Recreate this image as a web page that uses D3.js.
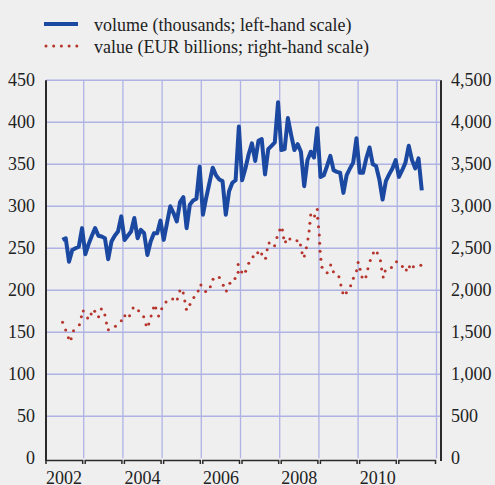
<!DOCTYPE html>
<html><head><meta charset="utf-8">
<script src="https://cdn.jsdelivr.net/npm/d3@7"></script>
<style>
html,body{margin:0;padding:0;background:#efefef;}
svg{display:block;}
text{font-family:"Liberation Serif","Times New Roman",serif;fill:#222;}
</style></head>
<body>
<svg id="chart" width="495" height="485"></svg>
<script>
// ---- data ----
const legendLabels = ["volume (thousands; left-hand scale)", "value (EUR billions; right-hand scale)"];
const leftTicks = [0,50,100,150,200,250,300,350,400,450];
const rightTicks = [0,500,1000,1500,2000,2500,3000,3500,4000,4500];
const yearLabels = [2002,2004,2006,2008,2010];
const yearBounds = [2002,2003,2004,2005,2006,2007,2008,2009,2010,2011,2012];
// volume: monthly, first month June 2002 (month index 5)
const volumeFirstMonth = 5;
const volume = [260,262,234,248,250,252,274,243,255,265,274,265,264,262,237,258,265,270,288,260,
  265,270,286,262,272,268,242,258,268,268,283,260,280,300,292,282,305,311,274,302,
  307,309,347,290,310,328,346,337,332,330,290,318,328,331,395,331,345,362,375,354,
  378,380,338,368,372,376,424,367,368,405,385,367,374,365,324,355,365,358,393,335,
  337,348,360,343,341,340,316,337,345,352,381,340,340,357,370,350,348,332,308,330,
  338,345,355,335,343,352,372,355,345,357,319];
// value: dots of the dotted line (date as fractional year, value on right-hand scale)
const valueDates = [2002.46,2002.54,2002.61,2002.68,2002.74,2002.89,2002.94,2002.99,2003.10,2003.19,
  2003.28,2003.38,2003.45,2003.54,2003.58,2003.63,2003.81,2003.96,2004.05,2004.17,
  2004.26,2004.40,2004.53,2004.59,2004.66,2004.72,2004.78,2004.84,2004.91,2004.99,
  2005.10,2005.27,2005.39,2005.45,2005.54,2005.58,2005.62,2005.71,2005.81,2005.92,
  2005.99,2006.11,2006.23,2006.30,2006.46,2006.56,2006.64,2006.73,2006.86,2006.94,
  2006.94,2007.03,2007.13,2007.21,2007.32,2007.44,2007.54,2007.64,2007.68,2007.73,
  2007.87,2007.93,2008.00,2008.07,2008.10,2008.15,2008.26,2008.44,2008.53,2008.57,
  2008.63,2008.68,2008.72,2008.75,2008.77,2008.79,2008.89,2008.96,2008.97,2008.99,
  2009.01,2009.02,2009.03,2009.05,2009.08,2009.21,2009.30,2009.37,2009.51,2009.56,
  2009.61,2009.70,2009.81,2009.88,2009.96,2010.00,2010.05,2010.10,2010.20,2010.25,
  2010.31,2010.39,2010.49,2010.57,2010.60,2010.64,2010.69,2010.85,2010.98,2011.13,
  2011.23,2011.31,2011.41,2011.60];
const valueAmounts = [1619,1527,1436,1424,1519,1590,1686,1754,1670,1718,
  1750,1686,1777,1706,1611,1531,1571,1638,1698,1698,
  1789,1757,1686,1590,1599,1694,1789,1789,1694,1781,
  1861,1896,1896,1992,1968,1873,1774,1831,1914,1992,
  2063,1986,2043,2132,2152,2060,1992,2083,2140,2214,
  2307,2218,2226,2321,2400,2448,2432,2382,2483,2563,
  2531,2629,2718,2718,2626,2579,2611,2590,2539,2448,
  2408,2507,2611,2706,2798,2896,2885,2962,2857,2757,
  2658,2560,2464,2369,2274,2210,2301,2221,2162,2063,
  1971,1971,2054,2143,2233,2331,2250,2158,2162,2257,
  2355,2444,2444,2352,2254,2158,2230,2271,2340,2283,
  2242,2281,2281,2299];

// ---- styling ----
const blue = "#1b48a0", red = "#b5342b", grid = "#aeb3e3", axisCol = "#2a2a2a";
const svg = d3.select("#chart");
const x = d3.scaleLinear().domain([2002, 2012]).range([44.5, 436.5]);
const yL = d3.scaleLinear().domain([0, 450]).range([458.3, 80.3]);
const yR = d3.scaleLinear().domain([0, 4500]).range([458.3, 80.3]);

// gridlines
svg.append("g").selectAll("line").data(leftTicks.filter(d => d > 0)).join("line")
  .attr("x1", 46).attr("x2", 440).attr("y1", d => yL(d)).attr("y2", d => yL(d))
  .attr("stroke", grid).attr("stroke-width", 1.4);
svg.append("g").selectAll("line").data(yearBounds.slice(1)).join("line")
  .attr("x1", d => x(d)).attr("x2", d => x(d)).attr("y1", yL(450)).attr("y2", yL(0))
  .attr("stroke", grid).attr("stroke-width", 1.3);

// axes lines
svg.append("line").attr("x1", 46).attr("x2", 46).attr("y1", yL(450)).attr("y2", 461)
  .attr("stroke", axisCol).attr("stroke-width", 2);
svg.append("line").attr("x1", 441).attr("x2", 441).attr("y1", yL(450)).attr("y2", 461)
  .attr("stroke", axisCol).attr("stroke-width", 2);
// bottom axis: bracket per year
const yb = 460.5;
svg.append("g").selectAll("path").data(yearBounds.slice(0, -1)).join("path")
  .attr("d", d => `M${x(d) + 1.5},${yb + 3.5}V${yb}H${x(d + 1) - 1}V${yb + 3.5}`)
  .attr("fill", "none").attr("stroke", axisCol).attr("stroke-width", 1.5);

// left tick labels
svg.append("g").selectAll("text").data(leftTicks).join("text")
  .attr("x", 35).attr("y", d => yL(d)).attr("dy", "0.34em")
  .attr("text-anchor", "end").attr("font-size", 18).text(d => d);
// right tick labels
svg.append("g").selectAll("text").data(rightTicks).join("text")
  .attr("x", 451).attr("y", d => yR(d)).attr("dy", "0.34em")
  .attr("text-anchor", "start").attr("font-size", 18).text(d => d3.format(",")(d));
// year labels
svg.append("g").selectAll("text").data(yearLabels).join("text")
  .attr("x", d => x(d + 0.5)).attr("y", 484)
  .attr("text-anchor", "middle").attr("font-size", 18).text(d => d);

// volume line
const volPts = volume.map((v, i) => [2002 + (volumeFirstMonth + i + 0.5) / 12, v]);
svg.append("path").datum(volPts)
  .attr("d", d3.line().x(d => x(d[0])).y(d => yL(d[1])))
  .attr("fill", "none").attr("stroke", blue).attr("stroke-width", 4)
  .attr("stroke-linejoin", "round");

// value dots
svg.append("g").selectAll("circle").data(valueDates).join("circle")
  .attr("cx", d => x(d)).attr("cy", (d, i) => yR(valueAmounts[i])).attr("r", 1.5)
  .attr("fill", red);

// legend
svg.append("line").attr("x1", 44).attr("x2", 78).attr("y1", 24).attr("y2", 24)
  .attr("stroke", blue).attr("stroke-width", 4);
svg.append("g").selectAll("circle").data(d3.range(5)).join("circle")
  .attr("cx", d => 46 + d * 7.7).attr("cy", 46).attr("r", 1.5).attr("fill", red);
svg.append("g").selectAll("text").data(legendLabels).join("text")
  .attr("x", 94).attr("y", (d, i) => 30.5 + i * 22).attr("font-size", 18).text(d => d);
</script>
</body></html>
